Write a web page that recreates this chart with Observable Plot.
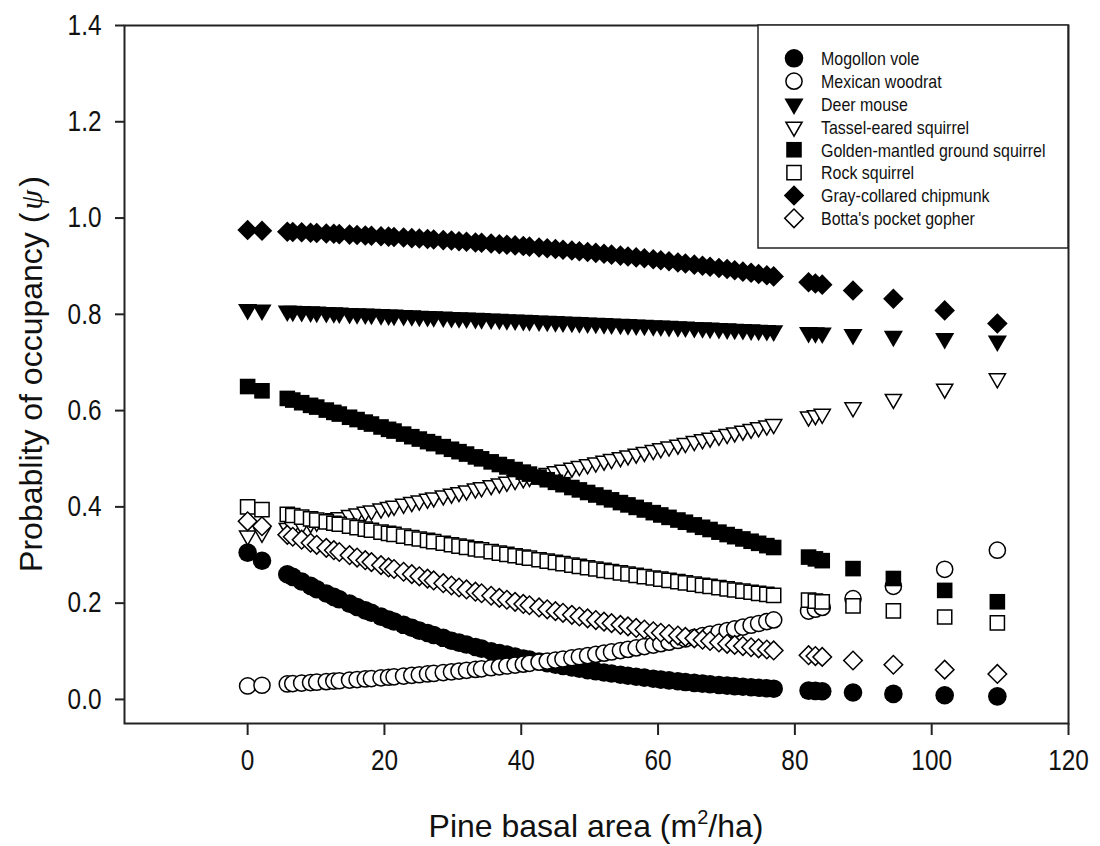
<!DOCTYPE html>
<html><head><meta charset="utf-8">
<script src="https://cdn.jsdelivr.net/npm/d3@7"></script>
<script src="https://cdn.jsdelivr.net/npm/@observablehq/plot@0.6"></script>
<style>
html,body{margin:0;padding:0;background:#fff;}
#chart{width:1100px;height:846px;}
</style></head><body><div id="chart"></div>
<script>
// Pine basal area (m2/ha) at each sampled site
const pineBasalArea = [
  0, 2.1, 5.8, 6.6, 7.9, 9.2, 10.1, 11.5, 12.6, 13.4,
  14.9, 16.0, 17.2, 18.1, 19.5, 20.6, 21.4, 22.8, 24.0, 25.1,
  26.3, 27.2, 28.6, 29.8, 30.9, 32.0, 33.3, 34.2, 35.6, 36.8,
  37.9, 39.1, 40.3, 41.2, 42.6, 43.8, 45.0, 46.1, 47.4, 48.5,
  49.7, 50.9, 52.1, 53.2, 54.5, 55.6, 56.8, 58.0, 59.3, 60.4,
  61.6, 62.9, 64.0, 65.3, 66.5, 67.6, 68.9, 70.1, 71.2, 72.4,
  73.6, 74.7, 75.9, 76.9,
  82.0, 83.0, 84.0, 88.5, 94.4, 101.9, 109.6
];
const mogollonVole = [
  0.305, 0.288, 0.260, 0.2545, 0.245, 0.236, 0.229, 0.220, 0.213, 0.208,
  0.199, 0.192, 0.185, 0.180, 0.172, 0.166, 0.162, 0.155, 0.149, 0.143,
  0.138, 0.134, 0.128, 0.122, 0.118, 0.114, 0.109, 0.1055, 0.100, 0.0965,
  0.093, 0.089, 0.085, 0.0826, 0.0787, 0.0754, 0.072, 0.0694, 0.0663, 0.0637,
  0.0609, 0.0584, 0.056, 0.0538, 0.0512, 0.0492, 0.0472, 0.0452, 0.043, 0.0412,
  0.0395, 0.0377, 0.0361, 0.0343, 0.0329, 0.0316, 0.0301, 0.0287, 0.0276, 0.0264,
  0.0253, 0.0242, 0.0232, 0.0223,
  0.0183, 0.0177, 0.0170, 0.0143, 0.0115, 0.0086, 0.0064
];
const mexicanWoodrat = [
  0.028, 0.0295, 0.0322, 0.0329, 0.034, 0.035, 0.0358, 0.037, 0.0381, 0.0388,
  0.0402, 0.0413, 0.0425, 0.0434, 0.0449, 0.0461, 0.047, 0.0486, 0.05, 0.0513,
  0.0529, 0.054, 0.0558, 0.0573, 0.0589, 0.0605, 0.0624, 0.0636, 0.0658, 0.0677,
  0.0694, 0.0714, 0.0733, 0.075, 0.0775, 0.0796, 0.0818, 0.084, 0.0866, 0.0887,
  0.091, 0.0936, 0.0962, 0.0986, 0.1015, 0.104, 0.107, 0.1099, 0.113, 0.1159,
  0.119, 0.1225, 0.1255, 0.129, 0.1325, 0.1357, 0.1395, 0.143, 0.1465, 0.1503,
  0.1542, 0.1577, 0.1618, 0.1652,
  0.1836, 0.1874, 0.1912, 0.2093, 0.2349, 0.2703, 0.310
];
const deerMouse = [
  0.810, 0.8089, 0.8071, 0.8066, 0.8059, 0.8051, 0.8046, 0.8039, 0.8032, 0.8028,
  0.8019, 0.8013, 0.8007, 0.8002, 0.7994, 0.7988, 0.7983, 0.7975, 0.7969, 0.7962,
  0.7956, 0.7951, 0.7943, 0.7936, 0.793, 0.7923, 0.7916, 0.7911, 0.7903, 0.7896,
  0.7889, 0.7882, 0.7875, 0.787, 0.7862, 0.7855, 0.7848, 0.7842, 0.7834, 0.7828,
  0.7821, 0.7814, 0.7807, 0.78, 0.7793, 0.7786, 0.7779, 0.7772, 0.7764, 0.7758,
  0.775, 0.7742, 0.7736, 0.7728, 0.7721, 0.7714, 0.7706, 0.7698, 0.7692, 0.7684,
  0.7677, 0.767, 0.7663, 0.7656,
  0.7624, 0.7618, 0.7612, 0.7583, 0.7546, 0.7498, 0.7448
];
const tasselEaredSquirrel = [
  0.340, 0.3458, 0.356, 0.3583, 0.362, 0.3657, 0.3687, 0.3728, 0.376, 0.3783,
  0.3827, 0.3859, 0.3894, 0.3921, 0.3961, 0.3994, 0.4018, 0.406, 0.4096, 0.4129,
  0.4165, 0.4192, 0.4234, 0.427, 0.4303, 0.4337, 0.4377, 0.4404, 0.4447, 0.4483,
  0.4517, 0.4554, 0.459, 0.4618, 0.4661, 0.4698, 0.4736, 0.477, 0.481, 0.4844,
  0.4881, 0.4918, 0.4955, 0.4989, 0.503, 0.5064, 0.5101, 0.5138, 0.5178, 0.5212,
  0.5249, 0.5289, 0.5323, 0.5363, 0.54, 0.5433, 0.5473, 0.551, 0.5544, 0.558,
  0.5617, 0.565, 0.5687, 0.5718,
  0.5872, 0.5901, 0.5931, 0.6065, 0.6238, 0.6453, 0.6668
];
const goldenMantledGroundSquirrel = [
  0.650, 0.6411, 0.6253, 0.6219, 0.6164, 0.6109, 0.6073, 0.6011, 0.5963, 0.5928,
  0.5862, 0.5814, 0.5761, 0.5721, 0.566, 0.5611, 0.5575, 0.5512, 0.5458, 0.5409,
  0.5355, 0.5314, 0.5251, 0.5197, 0.5147, 0.5097, 0.5038, 0.4998, 0.4935, 0.488,
  0.483, 0.4776, 0.4722, 0.4681, 0.4618, 0.4564, 0.451, 0.4461, 0.4402, 0.4353,
  0.4299, 0.4247, 0.4194, 0.4146, 0.4089, 0.4041, 0.3989, 0.3936, 0.388, 0.3832,
  0.3782, 0.3727, 0.3681, 0.3626, 0.3576, 0.353, 0.3475, 0.3425, 0.3381, 0.3334,
  0.3286, 0.3243, 0.3195, 0.3156,
  0.2957, 0.292, 0.2883, 0.2718, 0.2512, 0.2265, 0.2029
];
const rockSquirrel = [
  0.400, 0.3943, 0.3843, 0.3821, 0.3786, 0.3751, 0.3726, 0.3689, 0.366, 0.3639,
  0.3599, 0.357, 0.3538, 0.3514, 0.3477, 0.3449, 0.3428, 0.3392, 0.3362, 0.3333,
  0.3303, 0.328, 0.3244, 0.3213, 0.3186, 0.3159, 0.3127, 0.3105, 0.3071, 0.3041,
  0.3014, 0.2985, 0.2956, 0.2935, 0.2902, 0.2874, 0.2846, 0.282, 0.279, 0.2764,
  0.2736, 0.2709, 0.2682, 0.2658, 0.2629, 0.2605, 0.2578, 0.2551, 0.2523, 0.2499,
  0.2473, 0.2446, 0.2423, 0.2396, 0.2371, 0.2348, 0.2321, 0.2295, 0.2273, 0.2249,
  0.2226, 0.2204, 0.2181, 0.2161,
  0.2062, 0.2043, 0.2025, 0.1942, 0.1838, 0.1712, 0.159
];
const grayCollaredChipmunk = [
  0.975, 0.9737, 0.9716, 0.9711, 0.9704, 0.9696, 0.969, 0.968, 0.9672, 0.9666,
  0.9656, 0.9648, 0.9639, 0.9633, 0.9623, 0.9614, 0.9607, 0.9594, 0.9583, 0.9574,
  0.9563, 0.9555, 0.9542, 0.9532, 0.952, 0.9508, 0.9494, 0.9485, 0.947, 0.9457,
  0.9445, 0.9432, 0.9418, 0.9406, 0.9388, 0.9372, 0.9356, 0.9342, 0.9325, 0.931,
  0.9295, 0.9277, 0.9258, 0.924, 0.922, 0.9202, 0.9183, 0.9164, 0.9143, 0.9124,
  0.9102, 0.9077, 0.9056, 0.9032, 0.9009, 0.8988, 0.8964, 0.8941, 0.8914, 0.8887,
  0.8862, 0.8837, 0.881, 0.8788,
  0.8668, 0.8642, 0.8617, 0.8496, 0.8323, 0.8082, 0.7808
];
const bottasPocketGopher = [
  0.370, 0.3598, 0.3419, 0.338, 0.3318, 0.3255, 0.3212, 0.3149, 0.31, 0.3063,
  0.2996, 0.2947, 0.2893, 0.2853, 0.279, 0.2742, 0.271, 0.2652, 0.2603, 0.2558,
  0.2509, 0.2472, 0.2415, 0.2366, 0.2325, 0.2285, 0.2238, 0.2205, 0.2154, 0.211,
  0.207, 0.2027, 0.1984, 0.1956, 0.1911, 0.1872, 0.1834, 0.1799, 0.1757, 0.1722,
  0.1684, 0.1649, 0.1616, 0.1585, 0.1549, 0.1518, 0.1485, 0.1452, 0.1415, 0.1386,
  0.1358, 0.1327, 0.13, 0.1269, 0.1241, 0.1214, 0.1183, 0.1155, 0.1133, 0.1109,
  0.1084, 0.1062, 0.1038, 0.1018,
  0.0919, 0.0901, 0.0884, 0.0809, 0.072, 0.0619, 0.053
];
const speciesNames = [
  "Mogollon vole", "Mexican woodrat", "Deer mouse", "Tassel-eared squirrel",
  "Golden-mantled ground squirrel", "Rock squirrel", "Gray-collared chipmunk", "Botta's pocket gopher"
];
const xTicks = [0, 20, 40, 60, 80, 100, 120];
const yTicks = [0.0, 0.2, 0.4, 0.6, 0.8, 1.0, 1.2, 1.4];

const seriesValues = [mogollonVole, mexicanWoodrat, deerMouse, tasselEaredSquirrel,
  goldenMantledGroundSquirrel, rockSquirrel, grayCollaredChipmunk, bottasPocketGopher];

// marker styling (kept apart from the data)
const markerStyle = [
  {symbol: "circle",   filled: true,  rotate: 0,   r: 9.3},
  {symbol: "circle",   filled: false, rotate: 0,   r: 8.1},
  {symbol: "triangle", filled: true,  rotate: 180, r: 7.1},
  {symbol: "triangle", filled: false, rotate: 180, r: 6.0},
  {symbol: "square",   filled: true,  rotate: 0,   r: 8.8},
  {symbol: "square",   filled: false, rotate: 0,   r: 8.0},
  {symbol: "square",   filled: true,  rotate: 45,  r: 8.2},
  {symbol: "square",   filled: false, rotate: 45,  r: 7.4}
];

const rows = speciesNames.map((name, i) =>
  pineBasalArea.map((x, j) => ({species: name, x, y: seriesValues[i][j]})));

const FONT = "'Liberation Sans',Arial,Helvetica,sans-serif";

const plot = Plot.plot({
  width: 1100, height: 846,
  marginLeft: 124, marginRight: 32, marginTop: 25, marginBottom: 123,
  style: {fontFamily: FONT, fontSize: "29px", color: "#111", background: "#fff", overflow: "visible"},
  x: {domain: [-18, 120]},
  y: {domain: [-0.05, 1.4]},
  marks: [
    Plot.axisX({ticks: xTicks, tickSize: 12, tickPadding: 14, tickFormat: d => String(d), label: null, strokeWidth: 2, stroke: "#222"}),
    Plot.axisY({ticks: yTicks, tickSize: 9, tickPadding: 14, tickFormat: d3.format(".1f"), label: null, strokeWidth: 2, stroke: "#222"}),
    ...rows.map((data, i) => {
      const st = markerStyle[i];
      return Plot.dot(data, {
        x: "x", y: "y", symbol: st.symbol, r: st.r, rotate: st.rotate,
        fill: st.filled ? "#000" : "#fff",
        stroke: st.filled ? "none" : "#000",
        strokeWidth: 1.5
      });
    }),
    Plot.frame({stroke: "#222", strokeWidth: 2})
  ]
});

const svg = d3.select(plot);
// axis titles
const xt = svg.append("text")
  .attr("x", 596).attr("y", 837).attr("text-anchor", "middle")
  .attr("font-family", FONT).attr("font-size", 32).attr("fill", "#111");
xt.append("tspan").text("Pine basal area (m");
xt.append("tspan").attr("font-size", 20).attr("dy", -13).text("2");
xt.append("tspan").attr("dy", 13).text("/ha)");

const yt = svg.append("text")
  .attr("transform", "translate(42,374) rotate(-90)").attr("text-anchor", "middle")
  .attr("font-family", FONT).attr("font-size", 32).attr("fill", "#111");
yt.append("tspan").text("Probablity of occupancy (");
yt.append("tspan").attr("font-family", "'Liberation Serif','Times New Roman',serif")
  .attr("font-style", "italic").attr("dx", 3).text("\u03C8");
yt.append("tspan").attr("dx", 3).text(")");

// legend
const symbolMap = {circle: d3.symbolCircle, square: d3.symbolSquare, triangle: d3.symbolTriangle};
const lg = svg.append("g").attr("class", "legend");
lg.append("rect").attr("x", 758).attr("y", 25).attr("width", 310).attr("height", 223)
  .attr("fill", "#fff").attr("stroke", "#222").attr("stroke-width", 1.5);
speciesNames.forEach((name, i) => {
  const st = markerStyle[i];
  const cy = 58.3 + i * 22.86;
  lg.append("path")
    .attr("d", d3.symbol(symbolMap[st.symbol], Math.PI * st.r * st.r)())
    .attr("transform", `translate(794,${cy}) rotate(${st.rotate})`)
    .attr("fill", st.filled ? "#000" : "#fff")
    .attr("stroke", st.filled ? "none" : "#000").attr("stroke-width", 1.5);
  lg.append("text").attr("class", "legend-label").attr("x", 821).attr("y", cy).attr("dy", "0.36em")
    .attr("text-anchor", "start")
    .attr("font-family", FONT).attr("font-size", 19).attr("fill", "#111").text(name);
});

document.getElementById("chart").appendChild(plot);

// the reference uses a condensed sans face for tick labels and legend: compress glyphs horizontally
const condense = (sel, k) => sel.each(function() {
  const w = this.getComputedTextLength();
  if (w > 0) { this.setAttribute("textLength", (w * k).toFixed(2)); this.setAttribute("lengthAdjust", "spacingAndGlyphs"); }
});
condense(svg.selectAll("g[aria-label='x-axis tick label'] text, g[aria-label='y-axis tick label'] text"), 0.84);
condense(svg.selectAll("text.legend-label"), 0.84);
</script>
</body></html>
